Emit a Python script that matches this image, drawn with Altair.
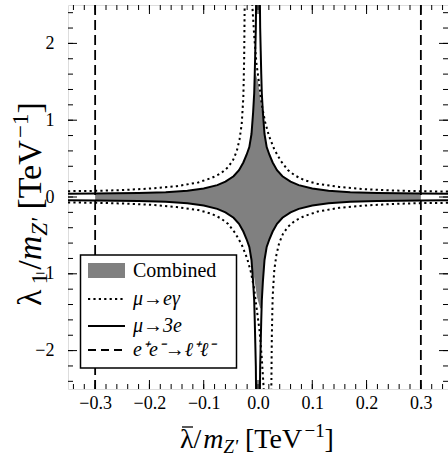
import altair as alt
import pandas as pd
import numpy as np

# ---------------- data ----------------
# mu -> 3e (solid) boundary, first quadrant (|x|, |y|), mirrored to the other quadrants
solid_ax = [0.0035, 0.004, 0.005, 0.006, 0.007, 0.009, 0.012, 0.016, 0.021, 0.027,
            0.035, 0.045, 0.06, 0.075, 0.1, 0.13, 0.17, 0.22, 0.3, 0.36]
solid_ay = [2.55, 2.2, 1.9, 1.6, 1.35, 1.1, 0.82, 0.65, 0.55, 0.45,
            0.35, 0.27, 0.2, 0.155, 0.11, 0.08, 0.062, 0.052, 0.045, 0.042]

# mu -> e gamma (dotted) boundary: upper-left and upper-right branches
# (the lower branches are their point reflections through the origin)
dot_ul_x = [-0.36, -0.3, -0.25, -0.2, -0.15, -0.11, -0.085, -0.068, -0.055, -0.046,
            -0.039, -0.034, -0.030, -0.027, -0.0255, -0.0245]
dot_ul_y = [0.075, 0.08, 0.09, 0.11, 0.14, 0.19, 0.25, 0.31, 0.39, 0.48,
            0.6, 0.75, 0.95, 1.3, 1.8, 2.55]
dot_ur_x = [0.36, 0.3, 0.25, 0.2, 0.15, 0.11, 0.085, 0.068, 0.055, 0.042,
            0.03, 0.02, 0.013, 0.007, 0.0025, -0.003, -0.007, -0.011]
dot_ur_y = [0.07, 0.075, 0.085, 0.1, 0.13, 0.17, 0.22, 0.28, 0.35, 0.47,
            0.62, 0.8, 0.98, 1.2, 1.45, 1.75, 2.1, 2.55]

# combined allowed region (grey)
comb_x = [-0.3, -0.22, -0.17, -0.13, -0.1, -0.075, -0.06, -0.045, -0.035, -0.027,
          -0.021, -0.016, -0.012, -0.009, -0.007, -0.006, -0.005, -0.004, -0.002, 0.0,
          0.002, 0.004, 0.005, 0.006, 0.007, 0.009, 0.012, 0.016, 0.021, 0.027,
          0.035, 0.045, 0.06, 0.075, 0.1, 0.13, 0.17, 0.22, 0.3]
comb_upper = [0.045, 0.052, 0.062, 0.08, 0.11, 0.155, 0.2, 0.27, 0.35, 0.45,
              0.55, 0.65, 0.82, 1.1, 1.35, 1.5, 1.6, 1.6, 1.55, 1.5,
              1.4, 1.3, 1.25, 1.2, 1.15, 1.05, 0.82, 0.65, 0.55, 0.45,
              0.35, 0.27, 0.2, 0.155, 0.11, 0.08, 0.062, 0.052, 0.045]
comb_lower = [-0.045, -0.052, -0.062, -0.08, -0.11, -0.155, -0.2, -0.27, -0.35, -0.45,
              -0.55, -0.65, -0.82, -1.0, -1.05, -1.1, -1.15, -1.2, -1.3, -1.35,
              -1.4, -1.45, -1.45, -1.45, -1.35, -1.1, -0.82, -0.65, -0.55, -0.45,
              -0.35, -0.27, -0.2, -0.155, -0.11, -0.08, -0.062, -0.052, -0.045]

# e+e- -> l+l- (dashed) bounds
ee_x = [-0.3, 0.3]

# ticks
x_major = [-0.3, -0.2, -0.1, 0.0, 0.1, 0.2, 0.3]
x_minor = [round(v, 2) for v in np.arange(-0.34, 0.341, 0.02)]
y_major = [-2, -1, 0, 1, 2]
y_minor = [round(v, 1) for v in np.arange(-2.4, 2.41, 0.2)]

# ---------------- build tables ----------------
rows = []
for b, (sx, sy) in enumerate([(1, 1), (-1, 1), (1, -1), (-1, -1)]):
    for i, (a, c) in enumerate(zip(solid_ax, solid_ay)):
        rows.append({"x": sx * a, "y": sy * c, "branch": f"s{b}", "ord": i})
solid_df = pd.DataFrame(rows)

rows = []
for name, xs_, ys_, s in [("ul", dot_ul_x, dot_ul_y, 1), ("ur", dot_ur_x, dot_ur_y, 1),
                          ("lr", dot_ul_x, dot_ul_y, -1), ("ll", dot_ur_x, dot_ur_y, -1)]:
    for i, (a, c) in enumerate(zip(xs_, ys_)):
        rows.append({"x": s * a, "y": s * c, "branch": name, "ord": i})
dot_df = pd.DataFrame(rows)

comb_df = pd.DataFrame({"x": comb_x, "yu": comb_upper, "yl": comb_lower})
ee_df = pd.DataFrame({"x": ee_x})

W, H = 380, 384
FONT = "Liberation Serif"
xs = alt.Scale(domain=[-0.35, 0.35], nice=False, zero=False)
ys = alt.Scale(domain=[-2.5, 2.5], nice=False, zero=False)

xaxis = alt.Axis(values=x_major, format=".1f", ticks=False, domain=False, grid=False,
                 labelFont=FONT, labelFontSize=18, labelColor="black", labelPadding=5,
                 labelFlush=False, title=None)
yaxis = alt.Axis(values=y_major, format="d", ticks=False, domain=False, grid=False,
                 labelFont=FONT, labelFontSize=18, labelColor="black", labelPadding=14,
                 labelFlush=False, title=None)

area = alt.Chart(comb_df).mark_area(color="#808080", opacity=1, clip=True).encode(
    x=alt.X("x:Q", scale=xs, axis=xaxis),
    y=alt.Y("yu:Q", scale=ys, axis=yaxis),
    y2="yl:Q",
)

solid = alt.Chart(solid_df).mark_line(color="black", strokeWidth=2, clip=True).encode(
    x=alt.X("x:Q", scale=xs, axis=xaxis),
    y=alt.Y("y:Q", scale=ys, axis=yaxis),
    detail="branch:N", order="ord:Q",
)

dotted = alt.Chart(dot_df).mark_line(color="black", strokeWidth=2, strokeDash=[2.2, 3.2],
                                     clip=True).encode(
    x=alt.X("x:Q", scale=xs, axis=xaxis),
    y=alt.Y("y:Q", scale=ys, axis=yaxis),
    detail="branch:N", order="ord:Q",
)

dashed = alt.Chart(ee_df).mark_rule(color="black", strokeWidth=1.8, strokeDash=[10, 5]).encode(
    x=alt.X("x:Q", scale=xs, axis=xaxis),
)

# inward ticks on all four sides
def xticks(vals, length):
    d = pd.DataFrame({"v": vals})
    b = alt.Chart(d).mark_rule(color="black", strokeWidth=1).encode(
        x=alt.X("v:Q", scale=xs, axis=xaxis), y=alt.value(H), y2=alt.value(H - length))
    t = alt.Chart(d).mark_rule(color="black", strokeWidth=1).encode(
        x=alt.X("v:Q", scale=xs, axis=xaxis), y=alt.value(0), y2=alt.value(length))
    return [b, t]

def yticks(vals, length):
    d = pd.DataFrame({"v": vals})
    l = alt.Chart(d).mark_rule(color="black", strokeWidth=1).encode(
        y=alt.Y("v:Q", scale=ys, axis=yaxis), x=alt.value(0), x2=alt.value(length))
    r = alt.Chart(d).mark_rule(color="black", strokeWidth=1).encode(
        y=alt.Y("v:Q", scale=ys, axis=yaxis), x=alt.value(W), x2=alt.value(W - length))
    return [l, r]

ticks = xticks(x_major, 9) + xticks(x_minor, 5) + yticks(y_major, 9) + yticks(y_minor, 5)

dummy = pd.DataFrame({"a": [0]})

def txt(s, x, y, size, italic=False, angle=0):
    kw = dict(text=s, font=FONT, fontSize=size, color="black", align="left",
              baseline="alphabetic")
    if italic:
        kw["fontStyle"] = "italic"
    if angle:
        kw["angle"] = angle
    return alt.Chart(dummy).mark_text(**kw).encode(x=alt.value(x), y=alt.value(y))

# x-axis title: λ̄/m_Z' [TeV^-1]
xb = 443
xt = [
    txt("\u03bb/", 112, xb, 28),
    alt.Chart(dummy).mark_rule(color="black", strokeWidth=1.3).encode(
        x=alt.value(114), x2=alt.value(125), y=alt.value(xb - 21)),
    txt("m", 135.2, xb, 28, italic=True),
    txt("Z'", 155.4, xb + 5, 19, italic=True),
    txt("[TeV", 177, xb, 28),
    txt("\u22121", 236.5, xb - 11, 19),
    txt("]", 256.5, xb, 28),
]

# y-axis title: λ1/m_Z' [TeV^-1] (rotated)
yx = -27
yo = -2
yt = [
    txt("\u03bb", yx, 303 + yo, 34, angle=270),
    txt("1", yx + 6, 281.3 + yo, 23, angle=270),
    txt("/", yx, 266.8 + yo, 34, angle=270),
    txt("m", yx, 257.3 + yo, 34, italic=True, angle=270),
    txt("Z'", yx + 6, 232.8 + yo, 23, italic=True, angle=270),
    txt("[TeV", yx, 206.6 + yo, 34, angle=270),
    txt("\u22121", yx - 13, 134.9 + yo, 23, angle=270),
    txt("]", yx, 110.4 + yo, 34, angle=270),
]

# legend box
lx0, lx1, ly0, ly1 = 12.5, 168.5, 250, 363
leg = [
    alt.Chart(dummy).mark_rect(fill="white", stroke="black", strokeWidth=1.5).encode(
        x=alt.value(lx0), x2=alt.value(lx1), y=alt.value(ly0), y2=alt.value(ly1)),
    alt.Chart(dummy).mark_rect(fill="#808080").encode(
        x=alt.value(20), x2=alt.value(57), y=alt.value(258), y2=alt.value(273)),
    alt.Chart(dummy).mark_rule(color="black", strokeWidth=2, strokeDash=[2.2, 3.2]).encode(
        x=alt.value(20), x2=alt.value(57), y=alt.value(294)),
    alt.Chart(dummy).mark_rule(color="black", strokeWidth=2).encode(
        x=alt.value(20), x2=alt.value(57), y=alt.value(321)),
    alt.Chart(dummy).mark_rule(color="black", strokeWidth=2, strokeDash=[8, 5]).encode(
        x=alt.value(20), x2=alt.value(57), y=alt.value(345)),
]

def ltxt(s, y, italic):
    kw = dict(text=s, font=FONT, fontSize=20, color="black", align="left", baseline="middle")
    if italic:
        kw["fontStyle"] = "italic"
    return alt.Chart(dummy).mark_text(**kw).encode(x=alt.value(65), y=alt.value(y))

leg += [
    ltxt("Combined", 266, False),
    ltxt("\u03bc\u2192e\u03b3", 294, True),
    ltxt("\u03bc\u21923e", 321, True),
    ltxt("e\u207ae\u207b\u2192\u2113\u207a\u2113\u207b", 345, True),
]

chart = alt.layer(area, dotted, solid, dashed, *ticks, *leg, *xt, *yt).properties(
    width=W, height=H,
    autosize=alt.AutoSizeParams(type="none"),
    padding={"left": 68, "top": 5, "right": 0, "bottom": 71},
).configure_view(stroke="black", strokeWidth=1.2).configure(
    background="white", font=FONT
).configure_axis(labelFont=FONT, labelFontSize=18, labelColor="black")

chart.save("out.html", embed_options={"renderer": "svg", "actions": False})
